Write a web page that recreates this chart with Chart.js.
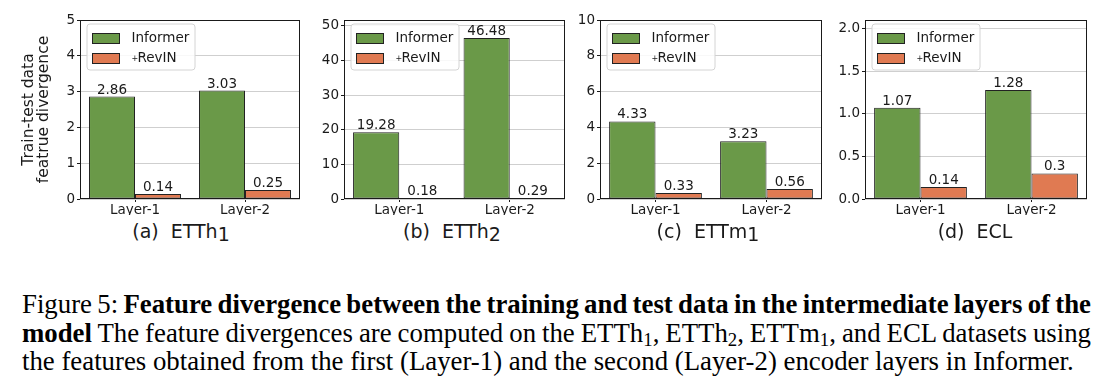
<!DOCTYPE html>
<html><head><meta charset="utf-8">
<script src="https://cdn.jsdelivr.net/npm/chart.js@4.4.0/dist/chart.umd.min.js"></script>
<style>
html,body{margin:0;padding:0;background:#fff;}
body{width:1116px;height:389px;position:relative;overflow:hidden;}
canvas{position:absolute;top:0;}
.ttl{position:absolute;top:221px;font-family:'DejaVu Sans';font-size:19px;line-height:20px;color:#1a1a1a;white-space:nowrap;transform:translateX(-50%);}
.ttl .gap{margin-left:12px;}
.ttl .sub{position:relative;top:3px;}
.cap{position:absolute;left:22px;font-family:'Liberation Serif';color:#000;white-space:nowrap;line-height:28px;}
.cap sub{font-size:0.7em;line-height:0;vertical-align:-0.22em;}
</style></head><body>
<canvas id="cA" width="310" height="215" style="left:0px"></canvas>
<canvas id="cB" width="270" height="215" style="left:310px"></canvas>
<canvas id="cC" width="262" height="215" style="left:575px"></canvas>
<canvas id="cD" width="281" height="215" style="left:835px"></canvas>
<div class="ttl" style="left:181px">(a)<span class="gap">ETTh</span><span class="sub">1</span></div>
<div class="ttl" style="left:452px">(b)<span class="gap">ETTh</span><span class="sub">2</span></div>
<div class="ttl" style="left:708px">(c)<span class="gap">ETTm</span><span class="sub">1</span></div>
<div class="ttl" style="left:975px">(d)<span class="gap">ECL</span></div>
<div id="cap1" class="cap">Figure 5: <b>Feature divergence between the training and test data in the intermediate layers of the</b></div>
<div id="cap2" class="cap"><b>model</b> The feature divergences are computed on the ETTh<sub>1</sub>, ETTh<sub>2</sub>, ETTm<sub>1</sub>, and ECL datasets using</div>
<div id="cap3" class="cap">the features obtained from the first (Layer-1) and the second (Layer-2) encoder layers in Informer.</div>
<script>
// ---------- data ----------
const categories = ['Layer-1', 'Layer-2'];
const seriesNames = ['Informer', '+RevIN'];
const informerETTh1 = [2.86, 3.03];
const revinETTh1 = [0.14, 0.25];
const informerETTh2 = [19.28, 46.48];
const revinETTh2 = [0.18, 0.29];
const informerETTm1 = [4.33, 3.23];
const revinETTm1 = [0.33, 0.56];
const informerECL = [1.07, 1.28];
const revinECL = [0.14, 0.3];
const yTicksETTh1 = ['0', '1', '2', '3', '4', '5'];
const yTicksETTh2 = ['0', '10', '20', '30', '40', '50'];
const yTicksETTm1 = ['0', '2', '4', '6', '8', '10'];
const yTicksECL = ['0.0', '0.5', '1.0', '1.5', '2.0'];
const yMaxETTh1 = 5, yMaxETTh2 = 51.7, yMaxETTm1 = 10, yMaxECL = 2.1;
const yAxisTitle = ['Train-test data', 'featrue divergence'];

// ---------- style ----------
const GREEN = '#6a9948', ORANGE = '#e07a52', EDGE = '#222222', INK = '#1a1a1a';
const FONT = "'DejaVu Sans'";

const framePlugin = {
  id: 'frame',
  afterDatasetsDraw(chart) {
    const {ctx, chartArea: a} = chart;
    ctx.save();
    ctx.strokeStyle = INK; ctx.lineWidth = 1;
    const l = Math.round(a.left) + 0.5, t = Math.round(a.top) + 0.5;
    const r = Math.round(a.right) - 0.5, b = Math.round(a.bottom) - 0.5;
    ctx.strokeRect(l, t, r - l, b - t);
    ctx.restore();
  }
};

const valuePlugin = {
  id: 'values',
  afterDatasetsDraw(chart) {
    const ctx = chart.ctx;
    ctx.save();
    ctx.font = '13.5px ' + FONT;
    ctx.fillStyle = INK;
    ctx.textAlign = 'center';
    ctx.textBaseline = 'alphabetic';
    chart.data.datasets.forEach((ds, i) => {
      chart.getDatasetMeta(i).data.forEach((bar, j) => {
        ctx.fillText(String(ds.data[j]), bar.x, bar.y - 3);
      });
    });
    ctx.restore();
  }
};

const legendPlugin = {
  id: 'boxLegend',
  afterDraw(chart) {
    const {ctx, chartArea: a} = chart;
    const x0 = a.left + 7, y0 = a.top + 4, w = 108, h = 46, r = 3;
    ctx.save();
    ctx.beginPath();
    ctx.moveTo(x0 + r, y0);
    ctx.arcTo(x0 + w, y0, x0 + w, y0 + h, r);
    ctx.arcTo(x0 + w, y0 + h, x0, y0 + h, r);
    ctx.arcTo(x0, y0 + h, x0, y0, r);
    ctx.arcTo(x0, y0, x0 + w, y0, r);
    ctx.closePath();
    ctx.fillStyle = 'rgba(255,255,255,0.85)';
    ctx.fill();
    ctx.strokeStyle = '#d4d4d4';
    ctx.lineWidth = 1;
    ctx.stroke();
    chart.data.datasets.forEach((ds, i) => {
      const sy = Math.round(a.top + 13 + i * 19.6);
      ctx.fillStyle = ds.backgroundColor;
      ctx.fillRect(a.left + 12, sy, 28, 10);
      ctx.strokeStyle = ds.borderColor;
      ctx.strokeRect(a.left + 12.5, sy + 0.5, 27, 10);
      ctx.fillStyle = INK;
      ctx.textBaseline = 'middle';
      ctx.textAlign = 'left';
      let label = ds.label, tx = a.left + 51.5;
      if (label.startsWith('+')) {
        ctx.font = '8px ' + FONT;
        ctx.fillText('+', tx, sy + 5.5);
        label = label.slice(1);
        tx = a.left + 57.5;
      }
      ctx.font = '13.5px ' + FONT;
      ctx.fillText(label, tx, sy + 5.5);
    });
    ctx.restore();
  }
};

function makePanel(id, informer, revin, tickLabels, yMax, yw, padRight, withTitle) {
  const yScale = {
    type: 'linear', min: 0, max: yMax,
    afterBuildTicks(scale) { scale.ticks = tickLabels.map(s => ({value: parseFloat(s)})); },
    afterFit(scale) { scale.width = yw; },
    grid: {color: '#cfcfcf', lineWidth: 1, drawTicks: true, tickLength: 3, tickColor: INK},
    border: {display: false},
    ticks: {
      color: INK, font: {family: 'DejaVu Sans', size: 13.5}, padding: 2,
      callback: (v, i) => tickLabels[i]
    },
    title: withTitle ? {
      display: true, text: yAxisTitle, color: INK,
      font: {family: 'DejaVu Sans', size: 15.5, lineHeight: 0.97},
      padding: {top: 21.5, bottom: 0}
    } : {display: false}
  };
  return new Chart(document.getElementById(id), {
    type: 'bar',
    data: {
      labels: categories,
      datasets: [
        {label: seriesNames[0], data: informer, backgroundColor: GREEN, borderColor: EDGE, borderWidth: 1, borderSkipped: false},
        {label: seriesNames[1], data: revin, backgroundColor: ORANGE, borderColor: EDGE, borderWidth: 1, borderSkipped: false}
      ]
    },
    options: {
      responsive: false, animation: false, devicePixelRatio: 1,
      layout: {padding: {left: 0, right: padRight, top: 20, bottom: 0}},
      datasets: {bar: {categoryPercentage: 0.836, barPercentage: 1.0}},
      plugins: {legend: {display: false}, tooltip: {enabled: false}, title: {display: false}},
      scales: {
        x: {
          type: 'category',
          afterFit(scale) { scale.height = 16; },
          grid: {display: true, drawOnChartArea: false, drawTicks: true, tickLength: 3, tickColor: INK, offset: false},
          border: {display: false},
          ticks: {color: INK, font: {family: 'DejaVu Sans', size: 13.5}, padding: 0, maxRotation: 0}
        },
        y: yScale
      }
    },
    plugins: [framePlugin, valuePlugin, legendPlugin]
  });
}

makePanel('cA', informerETTh1, revinETTh1, yTicksETTh1, yMaxETTh1, 80, 10, true);
makePanel('cB', informerETTh2, revinETTh2, yTicksETTh2, yMaxETTh2, 34, 15, false);
makePanel('cC', informerETTm1, revinETTm1, yTicksETTm1, yMaxETTm1, 25, 15, false);
makePanel('cD', informerECL, revinECL, yTicksECL, yMaxECL, 30, 29, false);

// ---------- caption layout ----------
(function () {
  const c = document.createElement('canvas').getContext('2d');
  c.font = "100px 'Liberation Serif'";
  const w3 = c.measureText(document.getElementById('cap3').textContent).width;
  const fs = 100 * 1052 / w3;
  const baselines = [313, 342, 370];
  ['cap1', 'cap2', 'cap3'].forEach((id, i) => {
    const el = document.getElementById(id);
    el.style.fontSize = fs + 'px';
    el.style.top = (baselines[i] - ((28 - 1.107 * fs) / 2 + 0.891 * fs)) + 'px';
  });
  ['cap1', 'cap2'].forEach(id => {
    const el = document.getElementById(id);
    const natural = el.getBoundingClientRect().width;
    const spaces = (el.textContent.match(/ /g) || []).length;
    const extra = (1069 - natural) / spaces;
    el.style.wordSpacing = extra + 'px';
  });
})();
</script>
</body></html>
